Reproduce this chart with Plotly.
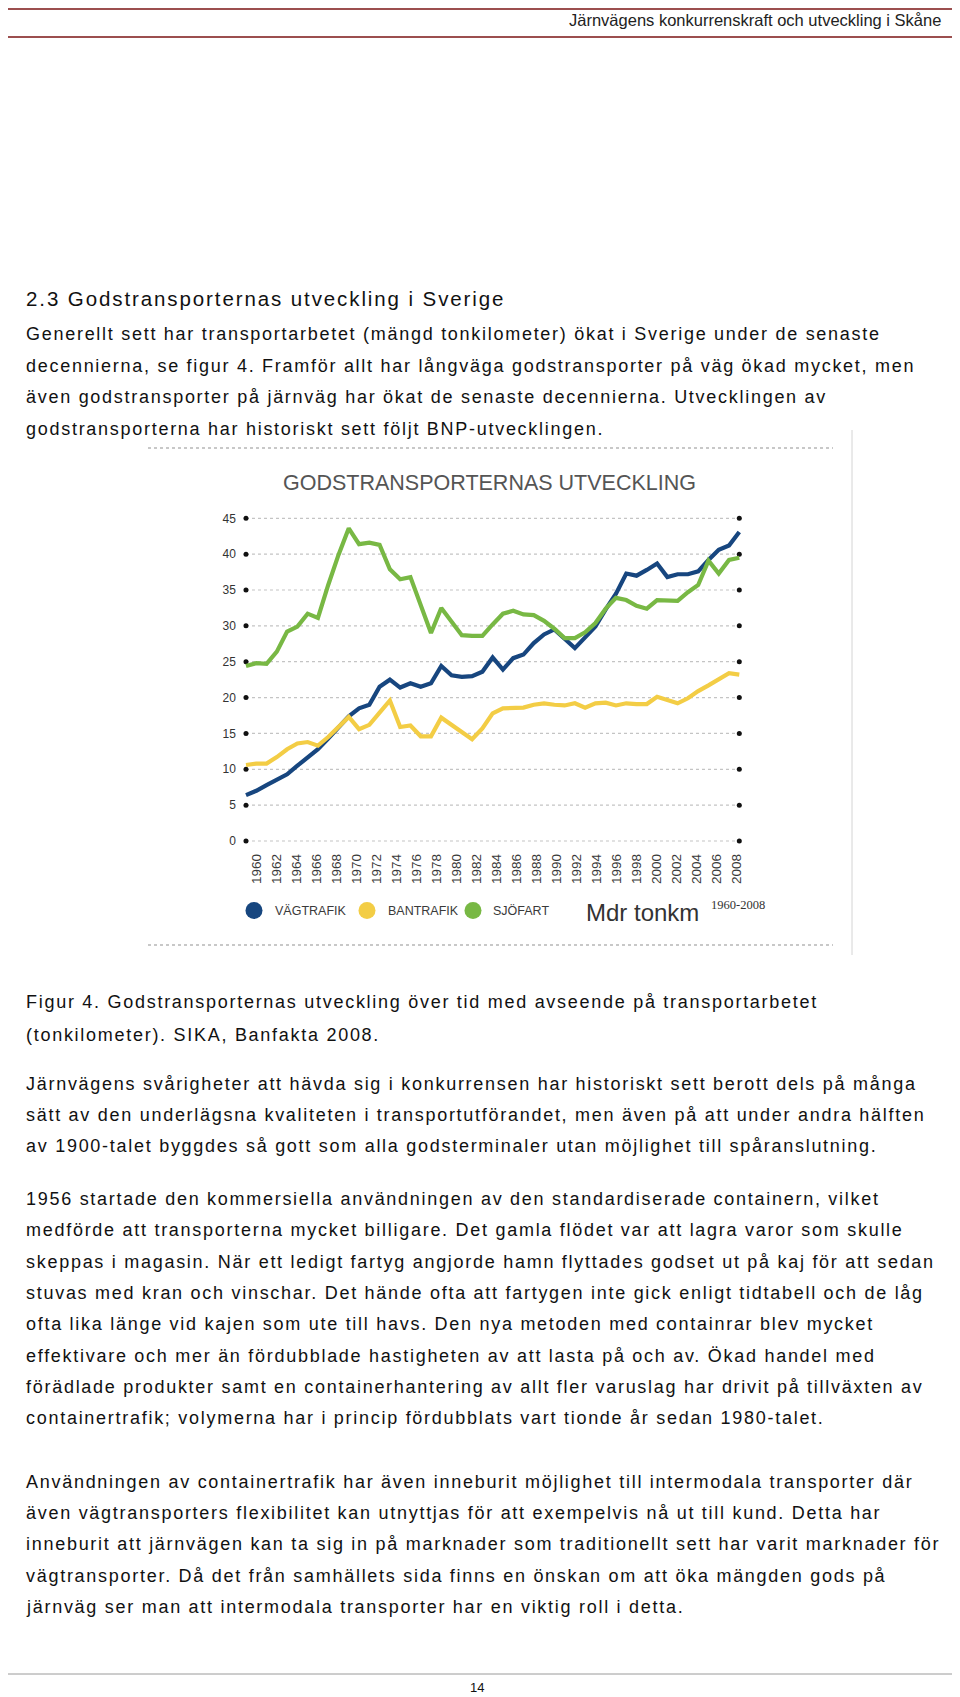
import plotly.graph_objects as go

# page is rendered with the default 8px body margin, so the figure is sized to fit
OFF = 8
W, H = 952, 1689

# ---------------- data ----------------
years = list(range(1960, 2009))
vagtrafik = [6.4, 7.0, 7.8, 8.5, 9.3, 10.5, 11.6, 12.8, 14.3, 15.8,
             17.4, 18.5, 19.0, 21.5, 22.5, 21.4, 22.0, 21.5, 22.0, 24.4,
             23.1, 22.9, 23.0, 23.6, 25.6, 23.9, 25.5, 26.0, 27.6, 28.8,
             29.5, 28.2, 26.9, 28.4, 29.9, 32.3, 34.5, 37.3, 37.0, 37.8,
             38.7, 36.8, 37.2, 37.2, 37.6, 39.2, 40.6, 41.2, 43.1]
bantrafik = [10.6, 10.8, 10.8, 11.7, 12.8, 13.6, 13.8, 13.3, 14.5, 15.9,
             17.3, 15.6, 16.2, 17.9, 19.6, 15.9, 16.1, 14.6, 14.6, 17.2,
             16.2, 15.1, 14.2, 15.7, 17.8, 18.5, 18.5, 18.6, 19.0, 19.2,
             19.0, 18.9, 19.2, 18.6, 19.2, 19.3, 18.9, 19.2, 19.1, 19.1,
             20.1, 19.6, 19.2, 19.9, 20.9, 21.7, 22.6, 23.4, 23.2]
sjofart = [24.4, 24.8, 24.7, 26.4, 29.2, 29.9, 31.7, 31.1, 35.7, 39.9,
           43.6, 41.4, 41.6, 41.3, 37.9, 36.5, 36.8, 33.0, 29.0, 32.5,
           30.5, 28.7, 28.6, 28.6, 30.2, 31.7, 32.1, 31.6, 31.5, 30.7,
           29.6, 28.3, 28.3, 29.1, 30.4, 32.4, 33.9, 33.6, 32.8, 32.4,
           33.6, 33.5, 33.5, 34.7, 35.7, 39.1, 37.3, 39.2, 39.5]
series_names = ["VÄGTRAFIK", "BANTRAFIK", "SJÖFART"]
series_colors = ["#17467f", "#f3cd45", "#78b844"]
y_ticks = [0, 5, 10, 15, 20, 25, 30, 35, 40, 45]
x_ticks = list(range(1960, 2009, 2))

chart_title = "GODSTRANSPORTERNAS UTVECKLING"
unit_text = "Mdr tonkm"
period_text = "1960-2008"

header_text = "Järnvägens konkurrenskraft och utveckling i Skåne"
heading = "2.3 Godstransporternas utveckling i Sverige"
para1 = [
    "Generellt sett har transportarbetet (mängd tonkilometer) ökat i Sverige under de senaste",
    "decennierna, se figur 4. Framför allt har långväga godstransporter på väg ökad mycket, men",
    "även godstransporter på järnväg har ökat de senaste decennierna. Utvecklingen av",
    "godstransporterna har historiskt sett följt BNP-utvecklingen.",
]
caption = [
    "Figur 4. Godstransporternas utveckling över tid med avseende på transportarbetet",
    "(tonkilometer). SIKA, Banfakta 2008.",
]
para2 = [
    "Järnvägens svårigheter att hävda sig i konkurrensen har historiskt sett berott dels på många",
    "sätt av den underlägsna kvaliteten i transportutförandet, men även på att under andra hälften",
    "av 1900-talet byggdes så gott som alla godsterminaler utan möjlighet till spåranslutning.",
]
para3 = [
    "1956 startade den kommersiella användningen av den standardiserade containern, vilket",
    "medförde att transporterna mycket billigare. Det gamla flödet var att lagra varor som skulle",
    "skeppas i magasin. När ett ledigt fartyg angjorde hamn flyttades godset ut på kaj för att sedan",
    "stuvas med kran och vinschar. Det hände ofta att fartygen inte gick enligt tidtabell och de låg",
    "ofta lika länge vid kajen som ute till havs. Den nya metoden med containrar blev mycket",
    "effektivare och mer än fördubblade hastigheten av att lasta på och av. Ökad handel med",
    "förädlade produkter samt en containerhantering av allt fler varuslag har drivit på tillväxten av",
    "containertrafik; volymerna har i princip fördubblats vart tionde år sedan 1980-talet.",
]
para4 = [
    "Användningen av containertrafik har även inneburit möjlighet till intermodala transporter där",
    "även vägtransporters flexibilitet kan utnyttjas för att exempelvis nå ut till kund. Detta har",
    "inneburit att järnvägen kan ta sig in på marknader som traditionellt sett har varit marknader för",
    "vägtransporter. Då det från samhällets sida finns en önskan om att öka mängden gods på",
    "järnväg ser man att intermodala transporter har en viktig roll i detta.",
]
page_number = "14"


def X(px):
    return (px - OFF) / W


def Y(py):
    return 1 - (py - OFF) / H


fig = go.Figure()

# gridlines (dotted) with black end dots
shapes = []
for v in y_ticks:
    shapes.append(dict(type="line", xref="x", yref="y", x0=years[0], x1=years[-1],
                       y0=v, y1=v, line=dict(color="#c4c4c4", width=1.2, dash="dot"),
                       layer="below"))
fig.add_trace(go.Scatter(x=[years[0]] * len(y_ticks) + [years[-1]] * len(y_ticks),
                         y=y_ticks + y_ticks, mode="markers",
                         marker=dict(color="#111111", size=5), hoverinfo="skip",
                         showlegend=False))

for name, vals, col in zip(series_names, [vagtrafik, bantrafik, sjofart], series_colors):
    fig.add_trace(go.Scatter(x=years, y=vals, mode="lines", name=name,
                             line=dict(color=col, width=4.2), showlegend=False))

# invisible trace for the year-label axis
fig.add_trace(go.Scatter(x=[x_ticks[0], x_ticks[-1]], y=[0, 0], xaxis="x2", mode="markers",
                         marker=dict(opacity=0), hoverinfo="skip", showlegend=False))

ppx = 10.277
left_px = 246.0 - 0.4 * ppx
right_px = 739.3 + 0.4 * ppx
ppy = 7.171
y_top_px = 841 - 46 * ppy
y_bot_px = 841 + 1 * ppy

# year-label axis mapping: 1960 -> 257px, 2008 -> 736.5px
b = (2008 - 1960) / (736.5 - 257.0)
x2_lo = 1960 - (257.0 - left_px) * b
x2_hi = 2008 + (right_px - 736.5) * b

fig.update_layout(
    width=W, height=H,
    margin=dict(l=0, r=0, t=0, b=0),
    paper_bgcolor="white", plot_bgcolor="white",
    xaxis=dict(domain=[X(left_px), X(right_px)], range=[1959.6, 2008.4],
               showgrid=False, zeroline=False, showline=False, showticklabels=False,
               ticks=""),
    xaxis2=dict(overlaying="x", anchor="y", range=[x2_lo, x2_hi], tickvals=x_ticks,
                ticktext=[str(t) for t in x_ticks], tickangle=-90, showgrid=False,
                zeroline=False, showline=False, ticks="", side="bottom",
                tickfont=dict(family="Liberation Sans", size=13.5, color="#3a3a3a"),
                ticklabelstandoff=2),
    yaxis=dict(domain=[Y(y_bot_px), Y(y_top_px)], range=[-1, 46], tickvals=y_ticks,
               showgrid=False, zeroline=False, showline=False, ticks="",
               tickfont=dict(family="Liberation Sans", size=12, color="#333333"),
               ticklabelstandoff=5),
    showlegend=False,
)

# chart frame decorations
shapes += [
    dict(type="line", xref="paper", yref="paper", x0=X(148), x1=X(833), y0=Y(448), y1=Y(448),
         line=dict(color="#c8c8c8", width=2, dash="dot")),
    dict(type="line", xref="paper", yref="paper", x0=X(148), x1=X(833), y0=Y(945), y1=Y(945),
         line=dict(color="#c8c8c8", width=2, dash="dot")),
    dict(type="line", xref="paper", yref="paper", x0=X(852), x1=X(852), y0=Y(430), y1=Y(955),
         line=dict(color="#d4d4d4", width=1)),
    # page header lines
    dict(type="line", xref="paper", yref="paper", x0=X(8), x1=X(955), y0=Y(9), y1=Y(9),
         line=dict(color="#9c4f4f", width=1.8)),
    dict(type="line", xref="paper", yref="paper", x0=X(8), x1=X(955), y0=Y(37), y1=Y(37),
         line=dict(color="#9c4f4f", width=1.8)),
    # footer line
    dict(type="line", xref="paper", yref="paper", x0=X(8), x1=X(955), y0=Y(1674), y1=Y(1674),
         line=dict(color="#9a9a9a", width=1)),
]

# legend circles
legend_dot_x = [254, 367, 473]
legend_text_x = [273, 386, 491]
for cx, col in zip(legend_dot_x, series_colors):
    shapes.append(dict(type="circle", xref="paper", yref="paper",
                       x0=X(cx - 8.5), x1=X(cx + 8.5), y0=Y(919), y1=Y(902),
                       fillcolor=col, line=dict(width=0)))
fig.update_layout(shapes=shapes)

ann = []
for tx, name in zip(legend_text_x, series_names):
    ann.append(dict(x=X(tx), y=Y(911), text=name, showarrow=False, xanchor="left",
                    yanchor="middle", xref="paper", yref="paper",
                    font=dict(family="Liberation Sans", size=12.5, color="#3a3a3a")))
ann.append(dict(x=X(584), y=Y(912), text=unit_text, showarrow=False, xanchor="left",
                yanchor="middle", xref="paper", yref="paper",
                font=dict(family="Liberation Sans", size=24, color="#333333")))
ann.append(dict(x=X(709), y=Y(905), text=period_text, showarrow=False, xanchor="left",
                yanchor="middle", xref="paper", yref="paper",
                font=dict(family="Liberation Serif", size=12.5, color="#333333")))
ann.append(dict(x=X(489), y=Y(483), text=chart_title, showarrow=False, xanchor="center",
                yanchor="middle", xref="paper", yref="paper",
                font=dict(family="Liberation Sans", size=21.5, color="#555555")))


def spaced(t, ls):
    return '<span style="letter-spacing:%.2fpx">%s</span>' % (ls, t)


# page texts
body_font = dict(family="Liberation Sans", size=18, color="#111111")
BODY_LS = 1.72
ann.append(dict(x=X(943), y=Y(20), text=header_text, showarrow=False, xanchor="right",
                yanchor="middle", xref="paper", yref="paper",
                font=dict(family="Liberation Sans", size=16.5, color="#222222")))
ann.append(dict(x=X(24), y=Y(298), text=spaced(heading, 1.9), showarrow=False, xanchor="left",
                yanchor="middle", xref="paper", yref="paper",
                font=dict(family="Liberation Sans", size=20.5, color="#111111")))


def add_lines(lines, y0, step=31.4):
    for i, t in enumerate(lines):
        ann.append(dict(x=X(24), y=Y(y0 + i * step), text=spaced(t, BODY_LS), showarrow=False,
                        xanchor="left", yanchor="middle", xref="paper", yref="paper",
                        font=body_font))


add_lines(para1, 334, 31.7)
add_lines(caption, 1002, 32.5)
add_lines(para2, 1084, 31.0)
add_lines(para3, 1199, 31.3)
add_lines(para4, 1482, 31.2)
ann.append(dict(x=X(477), y=Y(1687), text=page_number, showarrow=False, xanchor="center",
                yanchor="middle", xref="paper", yref="paper",
                font=dict(family="Liberation Sans", size=13, color="#111111")))

fig.update_layout(annotations=ann)
fig.write_html("out.html")
